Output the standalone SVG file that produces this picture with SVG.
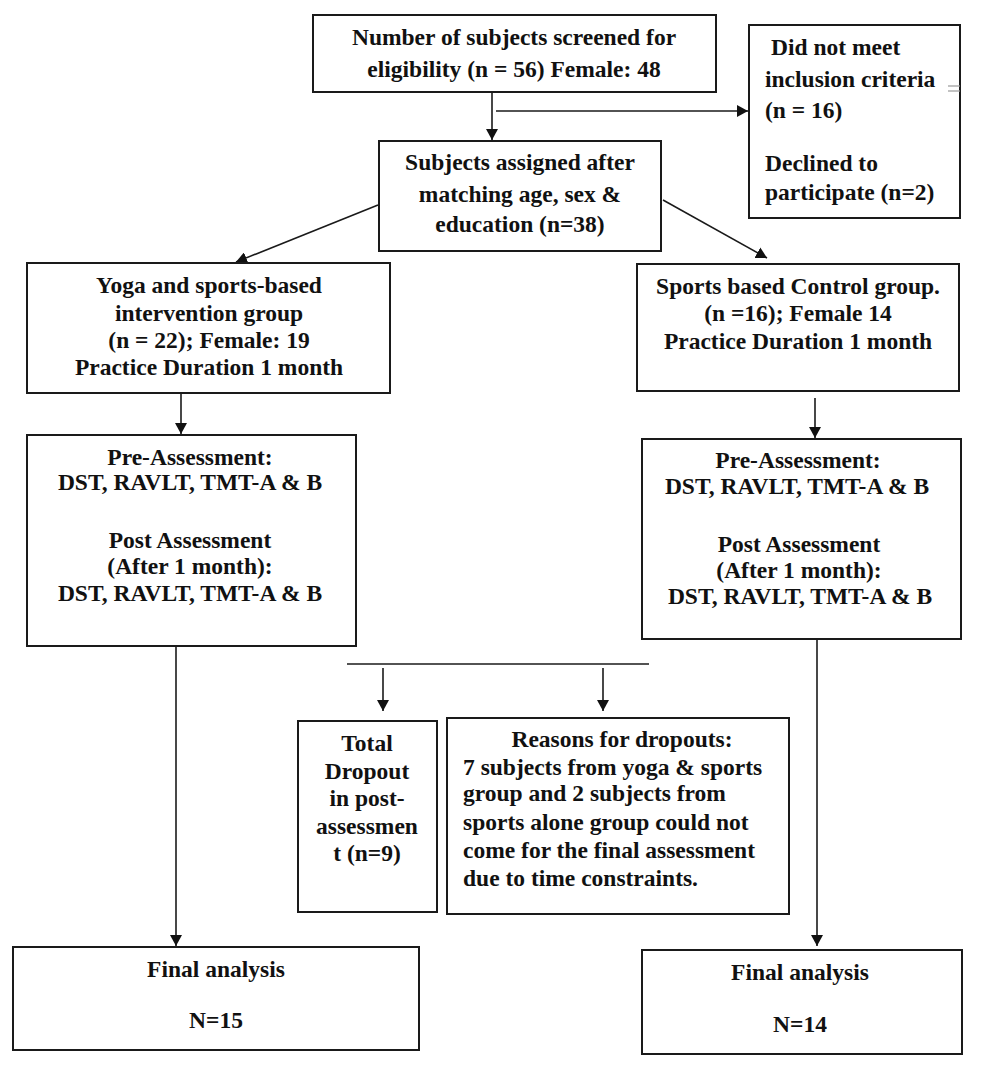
<svg xmlns="http://www.w3.org/2000/svg" width="986" height="1085" viewBox="0 0 986 1085">
<style>
.box{fill:#fff;stroke:#1a1a1a;stroke-width:2}
.t{font-family:"Liberation Serif","Times New Roman",serif;font-weight:bold;font-size:23.5px;fill:#111}
.c{text-anchor:middle}
.ln{stroke:#1a1a1a;stroke-width:1.6;fill:none}
</style>
<defs>
<marker id="ah" viewBox="0 0 11 12" refX="11" refY="6" markerWidth="11" markerHeight="12" markerUnits="userSpaceOnUse" orient="auto">
<path d="M0,0 L11,6 L0,12 z" fill="#111"/>
</marker>
</defs>
<rect width="986" height="1085" fill="#fff"/>

<g id="connectors">
<line class="ln" x1="492" y1="92" x2="492" y2="140" marker-end="url(#ah)"/>
<line class="ln" x1="496" y1="111" x2="748" y2="111" marker-end="url(#ah)"/>
<line class="ln" x1="378" y1="205" x2="236" y2="262" marker-end="url(#ah)"/>
<line class="ln" x1="663" y1="200" x2="767" y2="258" marker-end="url(#ah)"/>
<line class="ln" x1="181" y1="393" x2="181" y2="434" marker-end="url(#ah)"/>
<line class="ln" x1="815" y1="398" x2="815" y2="438" marker-end="url(#ah)"/>
<line class="ln" x1="176" y1="646" x2="176" y2="946" marker-end="url(#ah)"/>
<line class="ln" x1="817" y1="639" x2="817" y2="946" marker-end="url(#ah)"/>
<line class="ln" x1="347" y1="664" x2="649" y2="664"/>
<line class="ln" x1="383" y1="668" x2="383" y2="711" marker-end="url(#ah)"/>
<line class="ln" x1="603" y1="668" x2="603" y2="711" marker-end="url(#ah)"/>
</g>

<g id="screened">
<rect class="box" x="313" y="15" width="403" height="77"/>
<text class="t c" x="514" y="45">Number of subjects screened for</text>
<text class="t c" x="514" y="77">eligibility (n = 56) Female: 48</text>
</g>

<g id="excluded">
<rect class="box" x="749" y="25" width="211" height="193"/>
<text class="t" x="771" y="55">Did not meet</text>
<text class="t" x="765" y="87">inclusion criteria</text>
<text class="t" x="765" y="118">(n = 16)</text>
<text class="t" x="765" y="171">Declined to</text>
<text class="t" x="765" y="200">participate (n=2)</text>
<line x1="948" y1="86" x2="960" y2="86" stroke="#999" stroke-width="1.2"/>
<line x1="948" y1="91" x2="960" y2="91" stroke="#999" stroke-width="1.2"/>
</g>

<g id="assigned">
<rect class="box" x="379" y="141" width="282" height="110"/>
<text class="t c" x="520" y="170">Subjects assigned after</text>
<text class="t c" x="520" y="202">matching age, sex &amp;</text>
<text class="t c" x="520" y="232">education (n=38)</text>
</g>

<g id="yoga">
<rect class="box" x="27" y="263" width="363" height="130"/>
<text class="t c" x="209" y="293">Yoga and sports-based</text>
<text class="t c" x="209" y="321">intervention group</text>
<text class="t c" x="209" y="348">(n = 22); Female: 19</text>
<text class="t c" x="209" y="375">Practice Duration 1 month</text>
</g>

<g id="control">
<rect class="box" x="637" y="264" width="322" height="127"/>
<text class="t c" x="798" y="294">Sports based Control group.</text>
<text class="t c" x="798" y="321">(n =16); Female 14</text>
<text class="t c" x="798" y="349">Practice Duration 1 month</text>
</g>

<g id="assess-yoga">
<rect class="box" x="27" y="435" width="329" height="211"/>
<text class="t c" x="190" y="465">Pre-Assessment:</text>
<text class="t c" x="190" y="490">DST, RAVLT, TMT-A &amp; B</text>
<text class="t c" x="190" y="548">Post Assessment</text>
<text class="t c" x="190" y="574">(After 1 month):</text>
<text class="t c" x="190" y="601">DST, RAVLT, TMT-A &amp; B</text>
</g>

<g id="assess-control">
<rect class="box" x="642" y="439" width="319" height="200"/>
<text class="t c" x="798" y="468">Pre-Assessment:</text>
<text class="t c" x="797" y="494">DST, RAVLT, TMT-A &amp; B</text>
<text class="t c" x="799" y="552">Post Assessment</text>
<text class="t c" x="799" y="578">(After 1 month):</text>
<text class="t c" x="800" y="604">DST, RAVLT, TMT-A &amp; B</text>
</g>

<g id="dropout">
<rect class="box" x="298" y="721" width="139" height="191"/>
<text class="t c" x="367" y="751">Total</text>
<text class="t c" x="367" y="779">Dropout</text>
<text class="t c" x="367" y="806">in post-</text>
<text class="t c" x="367" y="834">assessmen</text>
<text class="t c" x="367" y="861">t (n=9)</text>
</g>

<g id="reasons">
<rect class="box" x="447" y="718" width="342" height="196"/>
<text class="t c" x="622" y="747">Reasons for dropouts:</text>
<text class="t" x="463" y="775">7 subjects from yoga &amp; sports</text>
<text class="t" x="463" y="801">group and 2 subjects from</text>
<text class="t" x="463" y="830">sports alone group could not</text>
<text class="t" x="463" y="858">come for the final assessment</text>
<text class="t" x="463" y="886">due to time constraints.</text>
</g>

<g id="final-yoga">
<rect class="box" x="13" y="947" width="406" height="103"/>
<text class="t c" x="216" y="977">Final analysis</text>
<text class="t c" x="216" y="1028">N=15</text>
</g>

<g id="final-control">
<rect class="box" x="642" y="950" width="320" height="104"/>
<text class="t c" x="800" y="980">Final analysis</text>
<text class="t c" x="800" y="1032">N=14</text>
</g>
</svg>
